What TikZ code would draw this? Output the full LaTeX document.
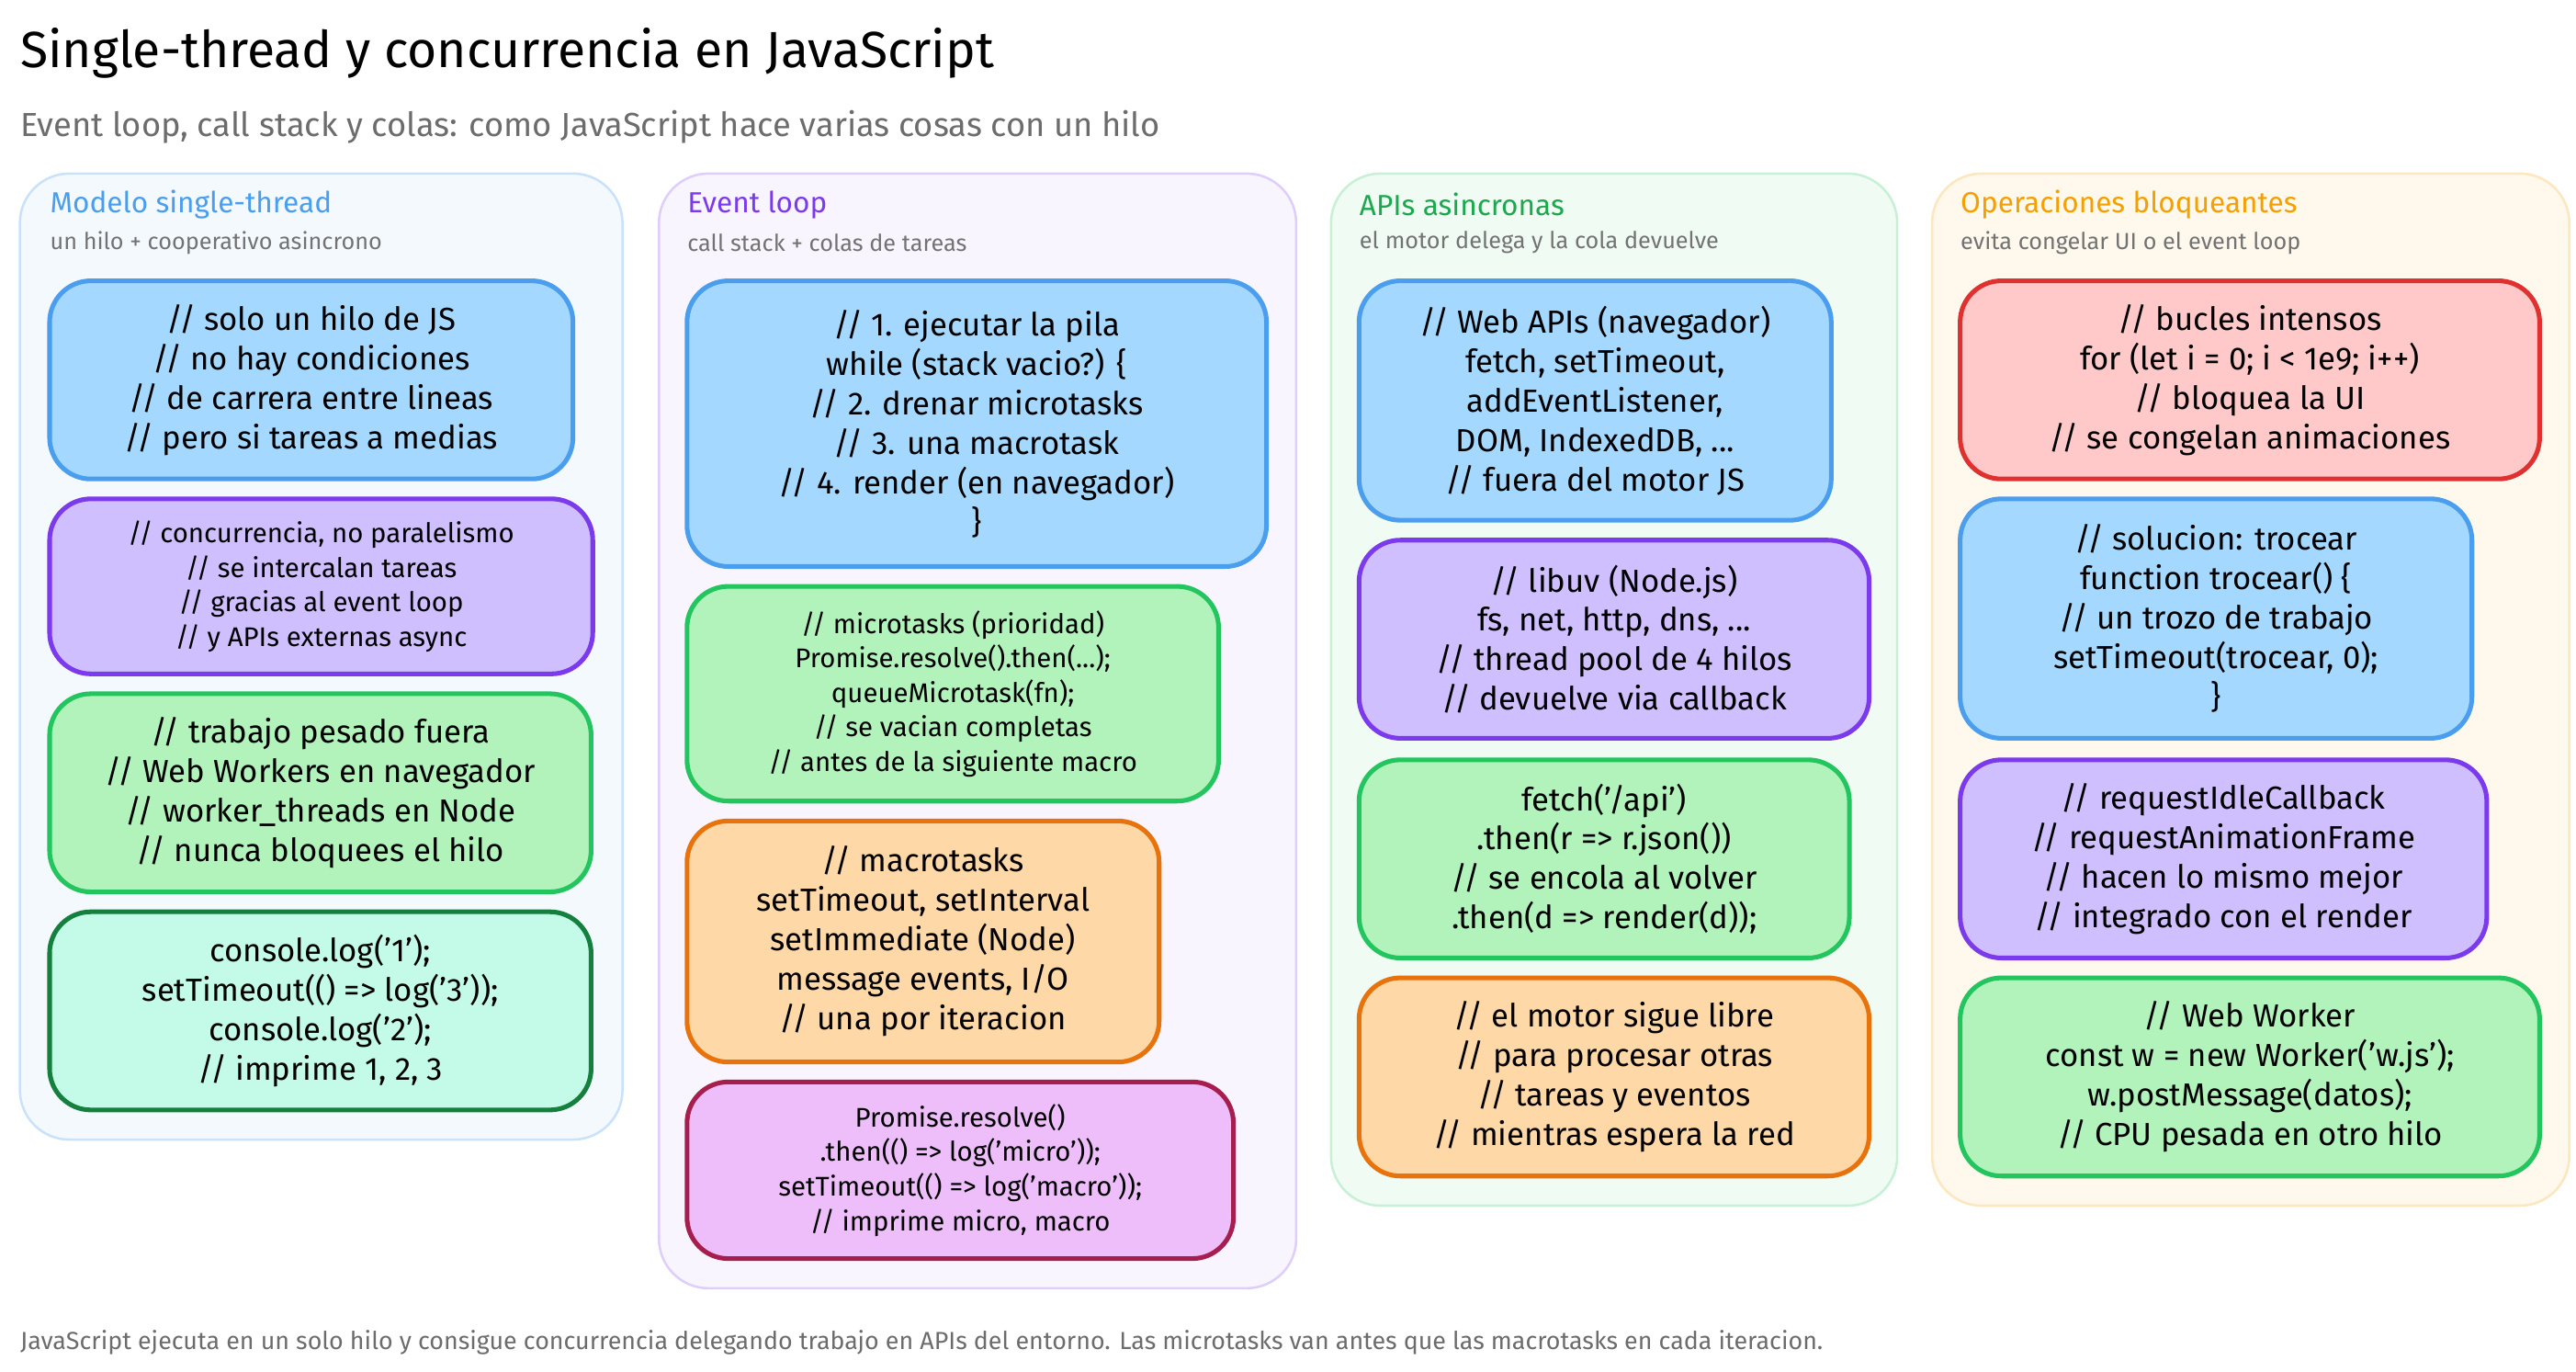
\documentclass[tikz,border=0pt]{standalone}
\usepackage{fontspec}
\setmainfont{Fira Sans}
\definecolor{bluefill}{HTML}{A5D8FF}\definecolor{blueline}{HTML}{4A9EED}
\definecolor{purfill}{HTML}{D0BFFF}\definecolor{purline}{HTML}{7C3AED}
\definecolor{grnfill}{HTML}{B2F2BB}\definecolor{grnline}{HTML}{22C55E}
\definecolor{tealfill}{HTML}{C3FAE8}\definecolor{tealline}{HTML}{15803D}
\definecolor{orgfill}{HTML}{FFD8A8}\definecolor{orgline}{HTML}{E8730C}
\definecolor{pinkfill}{HTML}{EEBEFA}\definecolor{pinkline}{HTML}{A61E4D}
\definecolor{redfill}{HTML}{FFC9C9}\definecolor{redline}{HTML}{E03131}
\definecolor{yelline}{HTML}{F59F00}
\tikzset{
  card/.style={draw, line width=1.6pt, rounded corners=0.5cm, align=center, inner sep=2pt, font=\fontsize{11}{13.6}\selectfont},
  small/.style={font=\fontsize{9.3}{11.9}\selectfont},
  panel/.style={draw, line width=0.8pt, rounded corners=0.6cm},
  head/.style={anchor=west, inner sep=0pt, font=\fontsize{10}{12}\selectfont},
  subhead/.style={anchor=west, inner sep=0pt, text=gray!90!black, font=\fontsize{8}{10}\selectfont},
}
\begin{document}
\begin{tikzpicture}[x=0.02cm, y=-0.02cm]
        \useasboundingbox (0,0) rectangle (1560,830.6);
        % Panels
        \node[panel, fill=blueline!6, draw=blueline!30, minimum width=7.3cm, minimum height=11.7cm] at (194.5,397.5) (p1) {};
        \node[panel, fill=purline!5, draw=purline!25, minimum width=7.72cm, minimum height=13.5cm] at (592,442.5) (p2) {};
        \node[panel, fill=grnline!7, draw=grnline!25, minimum width=6.86cm, minimum height=12.5cm] at (977.5,417.5) (p3) {};
        \node[panel, fill=yelline!7, draw=yelline!25, minimum width=7.72cm, minimum height=12.5cm] at (1363,417.5) (p4) {};

        % Titles
        \node[anchor=west, inner sep=0pt, font=\fontsize{17.5}{20}\selectfont] at (12,32) (title) {Single-thread y concurrencia en JavaScript};
        \node[anchor=west, inner sep=0pt, text=gray!85!black, font=\fontsize{11.5}{14}\selectfont] at (12,77) (subtitle) {Event loop, call stack y colas: como JavaScript hace varias cosas con un hilo};

        \node[head, text=blueline] at (30,124) (h1) {Modelo single-thread};
        \node[subhead] at (30,147) (s1) {un hilo + cooperativo asincrono};
        \node[head, text=purline] at (416,124) (h2) {Event loop};
        \node[subhead] at (416,147) (s2) {call stack + colas de tareas};
        \node[head, text=grnline!85!black] at (823,124) (h3) {APIs asincronas};
        \node[subhead] at (823,147) (s3) {el motor delega y la cola devuelve};
        \node[head, text=yelline] at (1187,124) (h4) {Operaciones bloqueantes};
        \node[subhead] at (1187,147) (s4) {evita congelar UI o el event loop};

        % Nodes
        \node[card, fill=bluefill, draw=blueline, minimum width=6.34cm, minimum height=2.4cm] at (188.5,230) (a1) {// solo un hilo de JS\\// no hay condiciones\\// de carrera entre lineas\\// pero si tareas a medias};
        \node[card, small, fill=purfill, draw=purline, minimum width=6.58cm, minimum height=2.12cm] at (194.5,355) (a2) {// concurrencia, no paralelismo\\// se intercalan tareas\\// gracias al event loop\\// y APIs externas async};
        \node[card, fill=grnfill, draw=grnline, minimum width=6.56cm, minimum height=2.4cm] at (194,480) (a3) {// trabajo pesado fuera\\// Web Workers en navegador\\// worker\_threads en Node\\// nunca bloquees el hilo};
        \node[card, fill=tealfill, draw=tealline, minimum width=6.56cm, minimum height=2.4cm] at (194,612) (a4) {console.log('1');\\setTimeout(() => log('3'));\\console.log('2');\\// imprime 1, 2, 3};

        \node[card, fill=bluefill, draw=blueline, minimum width=7.02cm, minimum height=3.46cm] at (591.5,256.5) (b1) {// 1. ejecutar la pila\\while (stack vacio?) \{\\// 2. drenar microtasks\\// 3. una macrotask\\// 4. render (en navegador)\\\}};
        \node[card, small, fill=grnfill, draw=grnline, minimum width=6.44cm, minimum height=2.6cm] at (577,420) (b2) {// microtasks (prioridad)\\Promise.resolve().then(...);\\queueMicrotask(fn);\\// se vacian completas\\// antes de la siguiente macro};
        \node[card, fill=orgfill, draw=orgline, minimum width=5.72cm, minimum height=2.92cm] at (559,570) (b3) {// macrotasks\\setTimeout, setInterval\\setImmediate (Node)\\message events, I/O\\// una por iteracion};
        \node[card, small, fill=pinkfill, draw=pinkline, minimum width=6.62cm, minimum height=2.14cm] at (581.5,708.5) (b4) {Promise.resolve()\\.then(() => log('micro'));\\setTimeout(() => log('macro'));\\// imprime micro, macro};

        \node[card, fill=bluefill, draw=blueline, minimum width=5.72cm, minimum height=2.9cm] at (966,242.5) (c1) {// Web APIs (navegador)\\fetch, setTimeout,\\addEventListener,\\DOM, IndexedDB, ...\\// fuera del motor JS};
        \node[card, fill=purfill, draw=purline, minimum width=6.18cm, minimum height=2.4cm] at (977.5,387) (c2) {// libuv (Node.js)\\fs, net, http, dns, ...\\// thread pool de 4 hilos\\// devuelve via callback};
        \node[card, fill=grnfill, draw=grnline, minimum width=5.94cm, minimum height=2.4cm] at (971.5,520) (c3) {fetch('/api')\\.then(r => r.json())\\// se encola al volver\\.then(d => render(d));};
        \node[card, fill=orgfill, draw=orgline, minimum width=6.18cm, minimum height=2.4cm] at (977.5,652) (c4) {// el motor sigue libre\\// para procesar otras\\// tareas y eventos\\// mientras espera la red};

        \node[card, fill=redfill, draw=redline, minimum width=7.02cm, minimum height=2.4cm] at (1362.5,230) (d1) {// bucles intensos\\for (let i = 0; i < 1e9; i++)\\// bloquea la UI\\// se congelan animaciones};
        \node[card, fill=bluefill, draw=blueline, minimum width=6.2cm, minimum height=2.9cm] at (1342,374.5) (d2) {// solucion: trocear\\function trocear() \{\\// un trozo de trabajo\\setTimeout(trocear, 0);\\\}};
        \node[card, fill=purfill, draw=purline, minimum width=6.38cm, minimum height=2.4cm] at (1346.5,520) (d3) {// requestIdleCallback\\// requestAnimationFrame\\// hacen lo mismo mejor\\// integrado con el render};
        \node[card, fill=grnfill, draw=grnline, minimum width=7.02cm, minimum height=2.4cm] at (1362.5,652) (d4) {// Web Worker\\const w = new Worker('w.js');\\w.postMessage(datos);\\// CPU pesada en otro hilo};

        % Footer
        \node[anchor=west, inner sep=0pt, text=gray!85!black, font=\fontsize{8.5}{10}\selectfont] at (12,813) (foot) {JavaScript ejecuta en un solo hilo y consigue concurrencia delegando trabajo en APIs del entorno. Las microtasks van antes que las macrotasks en cada iteracion.};
    \end{tikzpicture}
\end{document}
